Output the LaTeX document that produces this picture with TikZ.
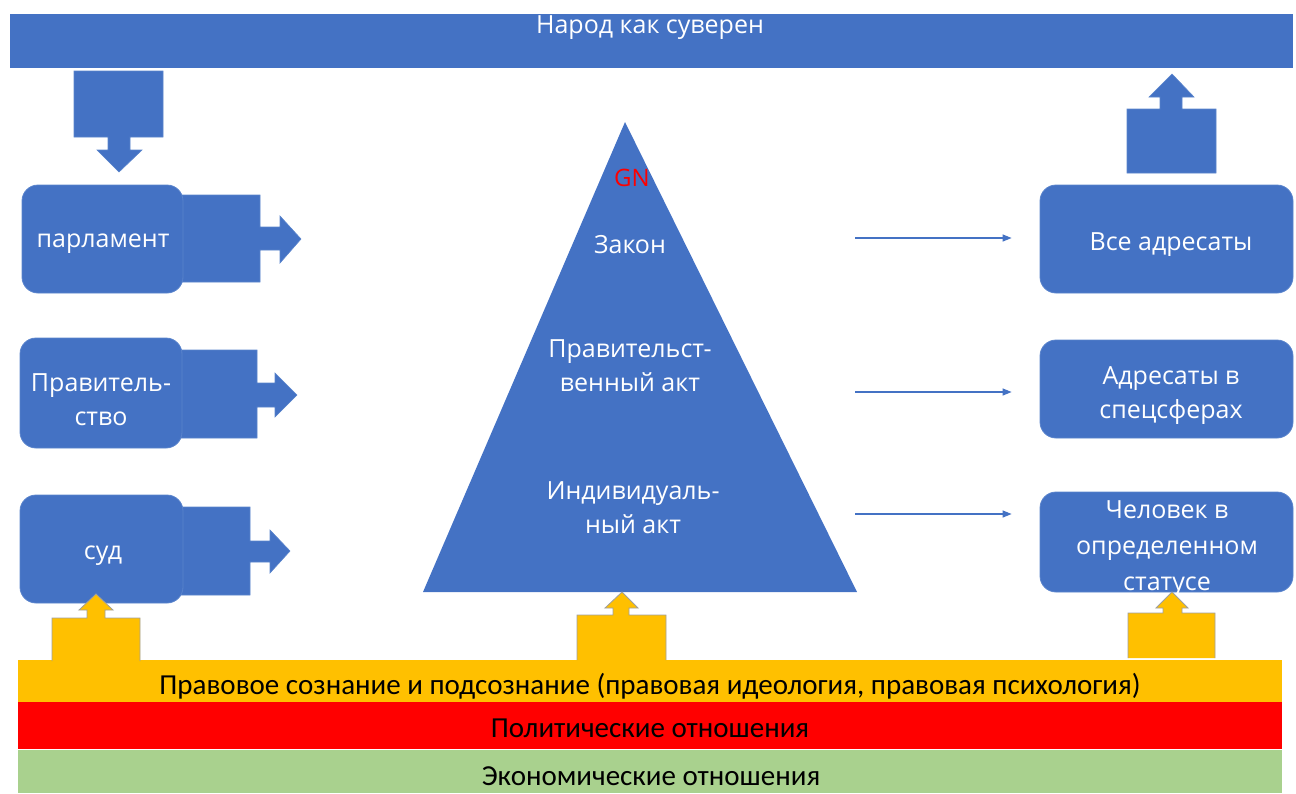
\documentclass[tikz,border=0pt]{standalone}
\usepackage{fontspec}
\setmainfont{Open Sans}
\newfontfamily\bandfont{Carlito}
\usetikzlibrary{arrows.meta}
\definecolor{blueC}{HTML}{4472C4}
\definecolor{edgeC}{HTML}{5A84CC}
\definecolor{yelC}{HTML}{FFC000}
\definecolor{redC}{HTML}{FF0000}
\definecolor{greenC}{HTML}{A9D18E}
\begin{document}
\begin{tikzpicture}[x=1pt,y=-1pt,
  box/.style={rounded corners=16pt, fill=blueC, draw=edgeC, line width=0.8pt, text=white,
    font=\fontsize{25}{34}\selectfont, align=center, inner sep=0pt},
  boxtext/.style={text=white, font=\fontsize{25}{34}\selectfont, align=center, inner sep=0pt},
  blockarrow/.style={fill=blueC, draw=edgeC, line width=0.6pt},
  yarrow/.style={fill=yelC, draw=gray!75, line width=0.8pt},
  band/.style={minimum width=1264pt, inner sep=0pt, text=black},
  bandtext/.style={font=\bandfont\fontsize{29}{34}\selectfont, text=black, inner sep=0pt},
  thin/.style={draw=blueC, line width=1.2pt, -{Triangle[length=9pt,width=7pt]}, shorten >=28pt}
]
\useasboundingbox (0,0) rectangle (1296,793);

% top banner
\node[fill=blueC, minimum width=1283pt, minimum height=54pt, inner sep=0pt] (banner) at (651.5,41) {};
\node[boxtext] (bannertext) at (650,28) {Народ как суверен};

% block arrows behind the left boxes
\draw[blockarrow] (175,195) -- (260,195) -- (260,227) -- (280,227) -- (280,216) -- (301,239)
  -- (280,263) -- (280,250) -- (260,250) -- (260,282) -- (175,282) -- cycle;
\draw[blockarrow] (175,350) -- (257,350) -- (257,383) -- (275,383) -- (275,373) -- (297,395)
  -- (275,417) -- (275,407) -- (257,407) -- (257,438) -- (175,438) -- cycle;
\draw[blockarrow] (172,507) -- (250,507) -- (250,541) -- (270,541) -- (270,530) -- (290,551)
  -- (270,573) -- (270,562) -- (250,562) -- (250,595) -- (172,595) -- cycle;

% down arrow from banner
\draw[blockarrow] (74,71) -- (163,71) -- (163,137) -- (130,137) -- (130,150) -- (142,150)
  -- (119,172) -- (97,150) -- (108,150) -- (108,137) -- (74,137) -- cycle;
% up arrow to banner
\draw[blockarrow] (1127,173) -- (1216,173) -- (1216,109) -- (1182,109) -- (1182,97) -- (1194,97)
  -- (1172,74) -- (1149,97) -- (1160,97) -- (1160,109) -- (1127,109) -- cycle;

% left boxes
\node[box, minimum width=161pt, minimum height=108pt] (parl) at (102.5,239) {};
\node[boxtext] (parltext) at (103,244) {парламент};
\node[box, minimum width=162pt, minimum height=110pt] (gov) at (101,393) {};
\node[boxtext] (govtext) at (101,400) {Правитель-\\ство};
\node[box, minimum width=163pt, minimum height=108pt] (court) at (101.5,549) {};
\node[boxtext] (courttext) at (103,556) {суд};

% right boxes
\node[box, minimum width=253pt, minimum height=108pt] (all) at (1166.5,239) {};
\node[boxtext] (alltext) at (1171,245) {Все адресаты};
\node[box, minimum width=253pt, minimum height=98pt] (spec) at (1166.5,389) {};
\node[boxtext] (spectext) at (1171,396) {Адресаты в\\спецсферах};
\node[box, minimum width=253pt, minimum height=100pt] (person) at (1166.5,542) {};
\node[boxtext, font=\fontsize{25}{36}\selectfont] (persontext) at (1167,549) {Человек в\\определенном\\статусе};

% pyramid
\fill[blueC] (625,122) -- (857,592) -- (423,592) -- cycle;
\node[text=redC, font=\fontsize{24}{28}\selectfont, inner sep=0pt] (gn) at (632,178) {GN};
\node[boxtext] (law) at (630,245) {Закон};
\node[boxtext] (govact) at (630,366) {Правительст-\\венный акт};
\node[boxtext] (indact) at (633,508) {Индивидуаль-\\ный акт};

% thin arrows
\coordinate (a1) at (855,238);
\coordinate (a2) at (855,392);
\coordinate (a3) at (855,514);
\draw[thin] (a1) -- (a1 -| all.west);
\draw[thin] (a2) -- (a2 -| spec.west);
\draw[thin] (a3) -- (a3 -| person.west);

% bands
\node[band, fill=yelC, minimum height=42pt] (b1) at (650,681) {};
\node[band, fill=redC, minimum height=47pt] (b2) at (650,725.5) {};
\node[band, fill=greenC, minimum height=43pt] (b3) at (650,771.5) {};
\node[bandtext] (b1t) at (650,686) {Правовое сознание и подсознание (правовая идеология, правовая психология)};
\node[bandtext] (b2t) at (650,728) {Политические отношения};
\node[bandtext] (b3t) at (651,776) {Экономические отношения};

% yellow up arrows
\draw[yarrow] (52,661) -- (52,618) -- (87,618) -- (87,610) -- (79,610) -- (96,594) -- (113,610)
  -- (105,610) -- (105,618) -- (140,618) -- (140,661);
\draw[yarrow] (577,660) -- (577,615) -- (613,615) -- (613,608) -- (605,608) -- (622,592) -- (638,608)
  -- (629,608) -- (629,615) -- (666,615) -- (666,660);
\draw[yarrow] (1128,658) -- (1128,613) -- (1163,613) -- (1163,608) -- (1156,608) -- (1172,592) -- (1188,608)
  -- (1182,608) -- (1182,613) -- (1215,613) -- (1215,658);
\end{tikzpicture}
\end{document}
